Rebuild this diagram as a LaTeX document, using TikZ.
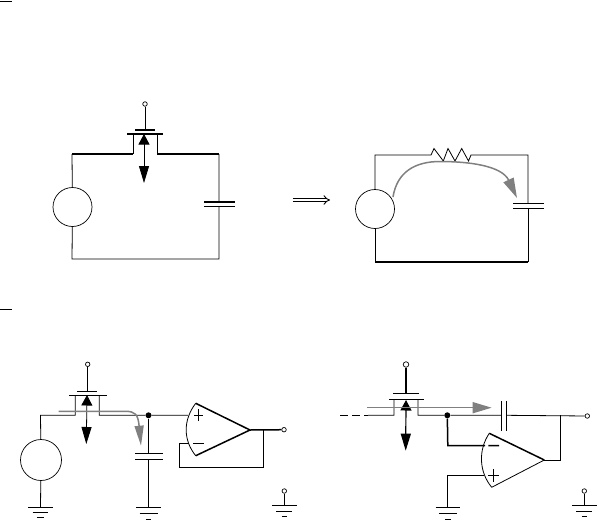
\documentclass[tikz,border=0pt]{standalone}
\usepackage{amsmath}
\usetikzlibrary{arrows.meta}
\tikzset{
  wire/.style={line width=0.8pt},
  heavy/.style={line width=1.5pt},
  flow/.style={line width=1.5pt, draw=black!50},
  source/.style={draw, circle, line width=0.7pt, inner sep=0pt, minimum size=#1},
  terminal/.style={draw, circle, line width=0.7pt, inner sep=0pt, minimum size=4.5pt},
  junction/.style={fill, circle, inner sep=0pt, minimum size=6pt},
  control/.style={line width=0.8pt, {Triangle[length=10.5pt,width=11pt]}-{Triangle[length=17pt,width=10pt]}},
  ground a/.pic={
    \draw[wire] (-12.3,0) -- (12.3,0) (-7.8,5) -- (7.8,5);
    \draw[heavy] (-3.5,10) -- (3.5,10);
  },
  ground b/.pic={
    \draw[wire] (-12.3,0) -- (12.3,0) (-2.7,11.7) -- (2.7,11.7);
    \draw[heavy] (-9,6.4) -- (9,6.4);
  },
  ground c/.pic={
    \draw[heavy] (-12.3,0) -- (12.3,0);
    \draw[wire] (-8,6) -- (8,6) (-2.5,10.5) -- (2.5,10.5);
  }
}
\begin{document}
\begin{tikzpicture}[x=1pt, y=-1pt, >=latex]
  \useasboundingbox (0,0) rectangle (600,520);

  % section rules
  \draw[wire] (0,1) -- (12,1) (0,309) -- (12,309);

  % top left circuit
  \path (145,104) node[terminal] (T1) {}
  (145,130) coordinate (G1)
  (133,134) coordinate (S1) (157,134) coordinate (D1)
  (133,154) coordinate (S1b) (157,154) coordinate (D1b)
  (72,154) coordinate (LT1) (219,154) coordinate (RT1)
  (72,259) coordinate (LB1) (219,259) coordinate (RB1)
  (219,202) coordinate (CA1) (219,206.5) coordinate (CB1)
  (72.5,207) node[source=39pt] (V1) {};
  \draw[wire] (T1) -- (G1);
  \draw[heavy] (135,130) -- (155,130) (127,134) -- (163,134);
  \draw[wire] (S1) -- (S1b) (D1) -- (D1b);
  \draw[heavy] (LT1) -- (S1b) (D1b) -- (RT1);
  \draw[wire] (LT1) -- (V1) -- (LB1) -- (RB1) -- (CB1) (RT1) -- (CA1);
  \draw[heavy] (204,202) -- (235,202) (204,206.5) -- (235,206.5);
  \path (144,134) coordinate (AU1) (144,183) coordinate (AD1);
  \draw[control] (AU1) -- (AD1);

  % the implication
  \path (293,200) coordinate (I1) (330,200) coordinate (I2);
  \draw[line width=0.9pt, double, double distance=2.4pt, -{Implies}] (I1) -- (I2);

  % top right circuit
  \path (375,209) node[source=39pt] (V2) {}
  (375,155) coordinate (LT2) (528,155) coordinate (RT2)
  (375,262) coordinate (LB2) (528,262) coordinate (RB2)
  (431,155) coordinate (R2a) (471,155) coordinate (R2b)
  (528,203.3) coordinate (CA2) (528,208.3) coordinate (CB2)
  (393,197) coordinate (F2a) (517,198) coordinate (F2b);
  \draw[wire] (V2) -- (LT2) -- (R2a) -- (434,148.5) -- (443.3,161) -- (448,148.5) -- (455,161)
    -- (461.7,148.5) -- (468.5,161) -- (R2b) -- (RT2) -- (CA2);
  \draw[wire] (V2) -- (LB2) (RB2) -- (CB2);
  \draw[heavy] (LB2) -- (RB2);
  \draw[wire] (513,203.3) -- (544,203.3) (513,208.3) -- (544,208.3);
  \draw[flow, -{Triangle[length=20pt,width=11pt]}, black!50] (F2a) .. controls (397,172) and (415,161.5) .. (440,161.5)
    .. controls (470,161.5) and (502,166) .. (F2b);

  % bottom left circuit
  \path (87.7,364.3) node[terminal] (T3) {}
  (87.7,391.5) coordinate (G3)
  (75.3,395) coordinate (S3) (99.3,395) coordinate (D3)
  (75.3,415.3) coordinate (S3b) (99.3,415.3) coordinate (D3b)
  (40.5,415.3) coordinate (LT3)
  (41,460) node[source=41pt] (V3) {}
  (40.5,507.3) coordinate (GN3)
  (148.5,415.3) node[junction] (J3) {}
  (148.5,453.3) coordinate (CA3) (148.5,459) coordinate (CB3)
  (148.5,507.3) coordinate (GC3)
  (188,415.3) coordinate (P3)
  (195.7,403.3) coordinate (OT3) (250,430) coordinate (OO3) (195.7,455.7) coordinate (OB3)
  (284,429.7) node[terminal] (O3) {}
  (263.3,430) coordinate (FB3) (263.3,467.3) coordinate (FC3)
  (179.3,467.3) coordinate (FD3) (179.3,443.3) coordinate (FE3) (189,443.3) coordinate (FF3)
  (284.3,491) node[terminal] (TG3) {}
  (284.3,505.7) coordinate (GR3)
  (87,395) coordinate (AU3) (86.3,444) coordinate (AD3);
  \draw[wire] (T3) -- (G3);
  \draw[wire] (77,391.5) -- (97,391.5) (69,395) -- (106.7,395);
  \draw[wire] (S3) -- (S3b) -- (LT3) -- (V3) -- (GN3) (D3) -- (D3b) -- (J3) -- (P3);
  \draw[wire] (J3) -- (CA3) (CB3) -- (GC3) (TG3) -- (GR3);
  \draw[heavy] (135,453.3) -- (163,453.3);
  \draw[wire] (135,459) -- (163,459);
  \draw[control] (AU3) -- (AD3);
  \draw[wire] (OT3) .. controls (183,420) and (183,440) .. (OB3);
  \draw[heavy] (OT3) -- (OO3) -- (OB3) (OO3) -- (O3);
  \draw[wire] (FB3) -- (FC3) -- (FD3) -- (FE3) -- (FF3);
  \draw[heavy] (194,415.3) -- (203.3,415.3) (198.5,409.3) -- (198.5,421);
  \draw[wire] (193,443.3) -- (204,443.3);
  \draw[flow, -{Triangle[length=20pt,width=9pt]}, black!50] (58.7,411.3) -- (125,411.3) .. controls (135,411.3) and (138,414) .. (141,445.7);
  \pic at (GN3) {ground a};
  \pic at (GC3) {ground b};
  \pic at (GR3) {ground c};

  % bottom right circuit
  \path (406,364.5) node[terminal, minimum size=5.5pt] (T4) {}
  (406,393.7) coordinate (G4)
  (394,399.3) coordinate (S4) (418,399.3) coordinate (D4)
  (394,415.3) coordinate (S4b) (418,415.3) coordinate (D4b)
  (340,415.3) coordinate (IN4) (368,415.3) coordinate (IM4)
  (447.3,415.3) node[junction] (J4) {}
  (501.3,415.3) coordinate (CA4) (506.3,415.3) coordinate (CB4)
  (560.3,415.3) coordinate (FB4)
  (587.3,416) node[terminal] (O4) {}
  (489.3,433.3) coordinate (OT4) (544.3,460) coordinate (OO4) (491.7,487.3) coordinate (OB4)
  (447.8,445.7) coordinate (NM4) (485,445.7) coordinate (NN4)
  (447.8,475.3) coordinate (PM4) (484,475.3) coordinate (PN4)
  (447.8,507.3) coordinate (GN4)
  (560.3,460) coordinate (FC4)
  (584.3,491) node[terminal] (TG4) {}
  (584.3,505.7) coordinate (GR4)
  (406,400) coordinate (AU4) (405.7,450.7) coordinate (AD4);
  \draw[heavy] (T4) -- (G4) (393,393.7) -- (419,393.7);
  \draw[wire] (389.3,399.3) -- (423.7,399.3);
  \draw[wire, dashed, dash pattern=on 8pt off 4pt] (IN4) -- (IM4);
  \draw[wire] (IM4) -- (S4b) -- (S4) (D4) -- (D4b) -- (J4) -- (CA4) (CB4) -- (O4);
  \draw[heavy] (501.3,401) -- (501.3,431) (506.3,401) -- (506.3,431);
  \draw[control, line width=1.2pt] (AU4) -- (AD4);
  \draw[wire] (OT4) .. controls (478,450) and (479,472) .. (OB4);
  \draw[heavy] (OT4) -- (OO4);
  \draw[wire] (OO4) -- (OB4);
  \draw[wire] (OO4) -- (FC4) -- (FB4);
  \draw[heavy] (J4) -- (NM4) -- (NN4) (488.3,445.7) -- (499,445.7);
  \draw[wire] (PN4) -- (PM4) -- (GN4) (TG4) -- (GR4);
  \draw[heavy] (488,475.5) -- (499.3,475.5) (493.7,469) -- (493.7,481.7);
  \draw[flow, -{Triangle[length=19pt,width=11pt]}, black!50] (367.3,407.7) -- (491.7,407.7);
  \pic at (GN4) {ground b};
  \pic at (GR4) {ground c};
\end{tikzpicture}
\end{document}
